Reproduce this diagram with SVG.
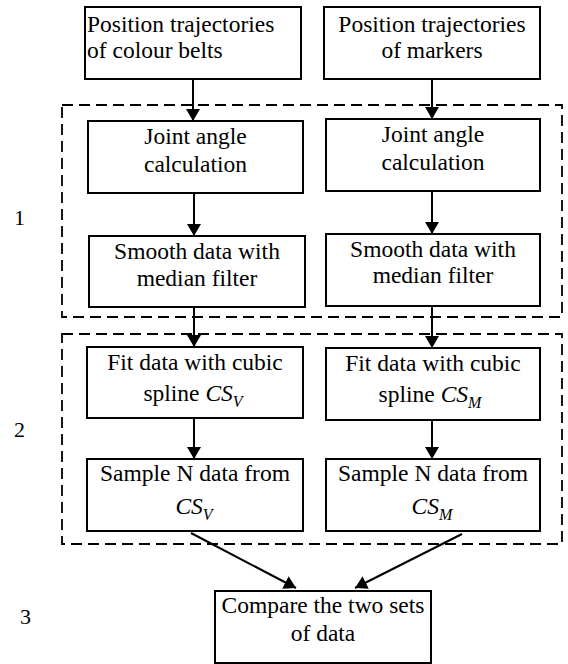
<svg xmlns="http://www.w3.org/2000/svg" width="568" height="664" viewBox="0 0 568 664">
  <style>
    .box { fill: #ffffff; stroke: #000000; stroke-width: 2; }
    .grp { fill: none; stroke: #000000; stroke-width: 1.8; stroke-dasharray: 11 6; }
    .edge { fill: none; stroke: #000000; stroke-width: 2; marker-end: url(#arrow); }
    text { font-family: "Liberation Serif", "Times New Roman", serif; font-size: 23.5px; fill: #000000; }
    .c { text-anchor: middle; }
    .it { font-style: italic; }
    .sub { font-style: italic; font-size: 16px; }
    .num { font-size: 22px; }
  </style>
  <defs>
    <marker id="arrow" viewBox="0 0 12 14" refX="12" refY="7" markerWidth="12" markerHeight="14" markerUnits="userSpaceOnUse" orient="auto">
      <path d="M0,0 L12,7 L0,14 z" fill="#000000"/>
    </marker>
  </defs>

  <!-- stage frames -->
  <g id="stages">
    <rect class="grp" x="62" y="105" width="500" height="212"/>
    <rect class="grp" x="62" y="334" width="500" height="210"/>
    <text class="num" x="14" y="225">1</text>
    <text class="num" x="14" y="437">2</text>
    <text class="num" x="20" y="624">3</text>
  </g>

  <!-- connectors -->
  <g id="connectors">
    <line class="edge" x1="193" y1="79" x2="193" y2="121"/>
    <line class="edge" x1="432" y1="79" x2="432" y2="119"/>
    <line class="edge" x1="194" y1="193" x2="194" y2="236"/>
    <line class="edge" x1="432" y1="191" x2="432" y2="234"/>
    <line class="edge" x1="194" y1="307" x2="194" y2="347"/>
    <line class="edge" x1="432" y1="306" x2="432" y2="348"/>
    <line class="edge" x1="194" y1="418" x2="194" y2="459"/>
    <line class="edge" x1="432" y1="418" x2="432" y2="459"/>
    <line class="edge" x1="191" y1="533" x2="296" y2="588"/>
    <line class="edge" x1="462" y1="534" x2="355" y2="588"/>
  </g>

  <!-- left column -->
  <g id="belts">
    <rect class="box" x="85" y="7" width="216" height="72"/>
    <text x="87" y="32">Position trajectories</text>
    <text x="87" y="58">of colour belts</text>
  </g>
  <g id="angle-v">
    <rect class="box" x="88" y="121" width="215" height="72"/>
    <text class="c" x="195.5" y="144">Joint angle</text>
    <text class="c" x="195.5" y="172">calculation</text>
  </g>
  <g id="smooth-v">
    <rect class="box" x="89" y="236" width="216" height="71"/>
    <text class="c" x="197" y="259">Smooth data with</text>
    <text class="c" x="197" y="286">median filter</text>
  </g>
  <g id="fit-v">
    <rect class="box" x="87" y="347" width="216" height="71"/>
    <text class="c" x="195" y="370">Fit data with cubic</text>
    <text class="c" x="193" y="401">spline <tspan class="it">CS</tspan><tspan class="sub" dy="6">V</tspan></text>
  </g>
  <g id="sample-v">
    <rect class="box" x="87" y="459" width="216" height="72"/>
    <text class="c" x="195" y="481">Sample N data from</text>
    <text class="c" x="194" y="514"><tspan class="it">CS</tspan><tspan class="sub" dy="6">V</tspan></text>
  </g>

  <!-- right column -->
  <g id="markers">
    <rect class="box" x="324" y="7" width="216" height="72"/>
    <text class="c" x="432" y="32">Position trajectories</text>
    <text class="c" x="432" y="58">of markers</text>
  </g>
  <g id="angle-m">
    <rect class="box" x="326" y="119" width="214" height="72"/>
    <text class="c" x="433" y="142">Joint angle</text>
    <text class="c" x="433" y="170">calculation</text>
  </g>
  <g id="smooth-m">
    <rect class="box" x="326" y="234" width="214" height="72"/>
    <text class="c" x="433" y="257">Smooth data with</text>
    <text class="c" x="433" y="283">median filter</text>
  </g>
  <g id="fit-m">
    <rect class="box" x="326" y="348" width="214" height="72"/>
    <text class="c" x="433" y="371">Fit data with cubic</text>
    <text class="c" x="430" y="402">spline <tspan class="it">CS</tspan><tspan class="sub" dy="6">M</tspan></text>
  </g>
  <g id="sample-m">
    <rect class="box" x="326" y="459" width="214" height="72"/>
    <text class="c" x="433" y="481">Sample N data from</text>
    <text class="c" x="432" y="514"><tspan class="it">CS</tspan><tspan class="sub" dy="6">M</tspan></text>
  </g>

  <!-- result -->
  <g id="compare">
    <rect class="box" x="215" y="591" width="216" height="72"/>
    <text class="c" x="323" y="613">Compare the two sets</text>
    <text class="c" x="323" y="641">of data</text>
  </g>
</svg>
